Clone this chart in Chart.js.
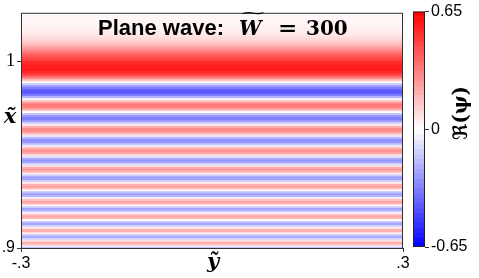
<!DOCTYPE html>
<html>
<head>
<meta charset="utf-8">
<script src="https://cdn.jsdelivr.net/npm/chart.js@4/dist/chart.umd.min.js"></script>
<style>
  html, body { margin: 0; padding: 0; background: #fff; }
  #wrap { position: relative; width: 479px; height: 278px; }
  #wrap canvas { position: absolute; top: 0; }
</style>
</head>
<body>
<div id="wrap">
  <canvas id="main" width="479" height="278" style="left:0"></canvas>
  <canvas id="cbar" width="74" height="278" style="left:405px"></canvas>
</div>
<script>
// rows of the field, x~ = X0 + i*DX, values of Re(psi) (bottom -> top)
var X0 = 0.9, DX = 0.001;
var psiRe = [
  -0.20, -0.04, 0.16, 0.22, 0.08, -0.12, -0.22, -0.14, 0.05, 0.20,
  0.20, 0.05, -0.13, -0.23, -0.17, 0.00, 0.17, 0.23, 0.15, -0.03,
  -0.18, -0.23, -0.13, 0.04, 0.20, 0.24, 0.15, -0.03, -0.19, -0.24,
  -0.16, 0.01, 0.17, 0.25, 0.20, 0.05, -0.12, -0.24, -0.24, -0.13,
  0.04, 0.19, 0.26, 0.22, 0.08, -0.09, -0.23, -0.27, -0.21, -0.07,
  0.10, 0.23, 0.28, 0.24, 0.12, -0.05, -0.19, -0.28, -0.28, -0.20,
  -0.06, 0.11, 0.24, 0.31, 0.29, 0.20, 0.06, -0.10, -0.23, -0.32,
  -0.32, -0.26, -0.14, 0.01, 0.16, 0.28, 0.34, 0.34, 0.26, 0.13,
  -0.03, -0.20, -0.33, -0.41, -0.43, -0.40, -0.33, -0.24, -0.12, 0.01,
  0.15, 0.28, 0.39, 0.49, 0.55, 0.58, 0.58, 0.575, 0.565, 0.55,
  0.53, 0.50, 0.47, 0.43, 0.39, 0.34, 0.30, 0.26, 0.22, 0.18,
  0.15, 0.12, 0.10, 0.08, 0.065, 0.055, 0.045, 0.04, 0.035, 0.03,
  0.027, 0.025, 0.022, 0.02, 0.02, 0.018, 0.017
];
var rowX = psiRe.map(function(v, i) { return +(X0 + i * DX).toFixed(4); });

var Y_RANGE = [-0.3, 0.3];
var Y_TICKS = [-0.3, 0.3];
var Y_TICK_LABELS = ['-.3', '.3'];
var X_RANGE = [0.9, 1.026];
var X_TICKS = [0.9, 1];
var X_TICK_LABELS = ['.9', '1'];
var VLIM = 0.65;
var CB_TICKS = [-0.65, 0, 0.65];
var CB_TICK_LABELS = ['-0.65', '0', '0.65'];
var CB_LEVELS = 48;

function bwr(v) {
    var t = (v + VLIM) / (2 * VLIM);
    t = Math.max(0, Math.min(1, t));
    var c;
    if (t < 0.5) {
        c = Math.round(510 * t);
        return 'rgb(' + c + ',' + c + ',255)';
    }
    c = Math.round(510 * (1 - t));
    return 'rgb(255,' + c + ',' + c + ')';
}

var tickFont = { family: 'Liberation Sans', size: 16 };

// frame, title, axis labels
var mainDeco = {
    id: 'mainDeco',
    afterDraw: function(chart) {
        var ctx = chart.ctx, a = chart.chartArea;
        ctx.save();
        ctx.strokeStyle = '#333';
        ctx.lineWidth = 1;
        ctx.strokeRect(a.left + 0.5, a.top + 0.5, a.right - a.left - 1, a.bottom - a.top);
        ctx.fillStyle = '#000';
        ctx.textBaseline = 'alphabetic';
        ctx.textAlign = 'left';
        ctx.font = 'bold 22px "Liberation Sans"';
        ctx.fillText('Plane wave:', 98, 35);
        ctx.font = 'italic bold 20px "DejaVu Serif"';
        ctx.fillText('W', 239, 35);
        ctx.save();
        ctx.translate(253, 17);
        ctx.scale(2.2, 0.8);
        ctx.font = '15px "DejaVu Serif"';
        ctx.textAlign = 'center';
        ctx.fillText('~', 0, 0);
        ctx.restore();
        ctx.save();
        ctx.translate(278, 35);
        ctx.scale(1.15, 1);
        ctx.font = 'bold 20px "DejaVu Serif"';
        ctx.fillText('=', 0, 0);
        ctx.restore();
        ctx.font = 'bold 20px "DejaVu Serif"';
        ctx.fillText('300', 306, 35);
        ctx.font = 'italic bold 21px "DejaVu Serif"';
        ctx.textAlign = 'center';
        ctx.fillText('x\u0303', 10, 123);
        ctx.fillText('y\u0303', 213, 268);
        ctx.restore();
    }
};

new Chart(document.getElementById('main'), {
    type: 'bar',
    data: {
        datasets: [{
            data: rowX.map(function(x, i) { return { y: x, x: Y_RANGE.slice() }; }),
            backgroundColor: psiRe.map(bwr),
            borderWidth: 0,
            barPercentage: 1.25,
            categoryPercentage: 1
        }]
    },
    options: {
        indexAxis: 'y',
        responsive: false,
        animation: false,
        layout: { padding: { left: 0, top: 7, right: 76, bottom: 0 } },
        plugins: { legend: { display: false }, tooltip: { enabled: false } },
        scales: {
            x: {
                type: 'linear', min: Y_RANGE[0], max: Y_RANGE[1],
                afterBuildTicks: function(s) { s.ticks = Y_TICKS.map(function(v) { return { value: v }; }); },
                afterFit: function(s) { s.height = 30; },
                ticks: {
                    font: tickFont, color: '#000', padding: 2, maxRotation: 0,
                    callback: function(v) { return Y_TICK_LABELS[Y_TICKS.indexOf(v)]; }
                },
                grid: { drawOnChartArea: false, tickLength: 4, color: '#333' },
                border: { display: false }
            },
            y: {
                type: 'linear', min: X_RANGE[0], max: X_RANGE[1], offset: false,
                afterBuildTicks: function(s) { s.ticks = X_TICKS.map(function(v) { return { value: v }; }); },
                afterFit: function(s) { s.width = 21; },
                ticks: {
                    color: '#000', padding: 2,
                    font: function(c) {
                        return c.tick && c.tick.value === 1 ? { family: 'Liberation Serif', size: 18 } : tickFont;
                    },
                    callback: function(v) { return X_TICK_LABELS[X_TICKS.indexOf(v)]; }
                },
                grid: { drawOnChartArea: false, offset: false, tickLength: 4, color: '#333' },
                border: { display: false }
            }
        }
    },
    plugins: [mainDeco]
});

// colorbar
var cbStep = 2 * VLIM / CB_LEVELS;
var cbCenters = [];
for (var k = 0; k < CB_LEVELS; k++) cbCenters.push(-VLIM + (k + 0.5) * cbStep);

var cbDeco = {
    id: 'cbDeco',
    afterDraw: function(chart) {
        var ctx = chart.ctx, a = chart.chartArea;
        ctx.save();
        ctx.strokeStyle = '#222';
        ctx.lineWidth = 1;
        ctx.strokeRect(a.left + 0.5, a.top + 0.5, a.right - a.left - 1, a.bottom - a.top - 1);
        ctx.translate(57, 113);
        ctx.rotate(-Math.PI / 2);
        ctx.fillStyle = '#000';
        ctx.textAlign = 'center';
        ctx.textBaseline = 'middle';
        ctx.font = 'bold 20px "DejaVu Serif", "DejaVu Sans"';
        ctx.fillText('\u211C(\u03C8)', 0, 0);
        ctx.restore();
    }
};

new Chart(document.getElementById('cbar'), {
    type: 'bar',
    data: {
        datasets: [{
            data: cbCenters.map(function(v) { return { y: v, x: [0, 1] }; }),
            backgroundColor: cbCenters.map(bwr),
            borderWidth: 0,
            barPercentage: 1.15,
            categoryPercentage: 1
        }]
    },
    options: {
        indexAxis: 'y',
        responsive: false,
        animation: false,
        layout: { padding: { left: 8, top: 9, right: 0, bottom: 31 } },
        plugins: { legend: { display: false }, tooltip: { enabled: false } },
        scales: {
            x: { type: 'linear', min: 0, max: 1, display: false },
            y: {
                type: 'linear', position: 'right', min: -VLIM, max: VLIM, offset: false,
                afterBuildTicks: function(s) { s.ticks = CB_TICKS.map(function(v) { return { value: v }; }); },
                afterFit: function(s) { s.width = 54; },
                ticks: {
                    font: tickFont, color: '#000', padding: 2,
                    callback: function(v) { return CB_TICK_LABELS[CB_TICKS.indexOf(v)]; }
                },
                grid: { drawOnChartArea: false, offset: false, tickLength: 4, color: '#333' },
                border: { display: false }
            }
        }
    },
    plugins: [cbDeco]
});
</script>
</body>
</html>
